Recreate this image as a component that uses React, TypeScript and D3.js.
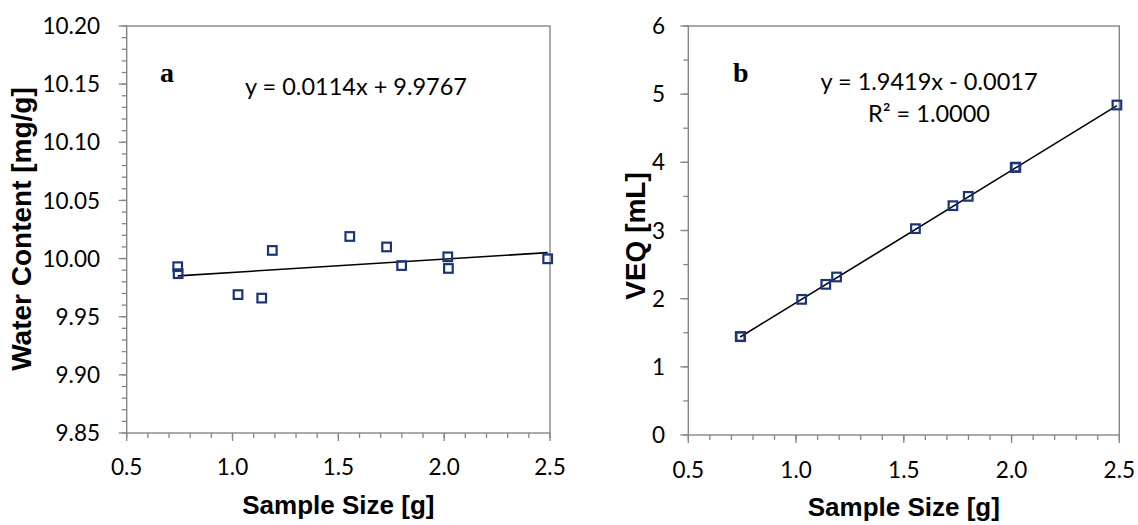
import React from "react";
import * as d3 from "d3";

// ---- data ----
const sampleSize = [0.741, 0.743, 1.026, 1.138, 1.188, 1.554, 1.728, 1.799, 2.017, 2.02, 2.489];
const waterContent = [9.993, 9.987, 9.969, 9.966, 10.007, 10.019, 10.01, 9.994, 10.0015, 9.9915, 9.9998];
const veq = [1.442, 1.445, 1.99, 2.21, 2.318, 3.027, 3.364, 3.501, 3.924, 3.93, 4.841];

const xTicks = [0.5, 1.0, 1.5, 2.0, 2.5];
const yTicksA = [9.85, 9.9, 9.95, 10.0, 10.05, 10.1, 10.15, 10.2];
const yTicksB = [0, 1, 2, 3, 4, 5, 6];

const trendA = { slope: 0.0114, intercept: 9.9767 };
const trendB = { slope: 1.9419, intercept: -0.0017 };

const eqA = ["y = 0.0114x + 9.9767"];
const eqB = ["y = 1.9419x - 0.0017", "R² = 1.0000"];

const AXIS = "#868686";
const MARK = "#1a3577";
const NUM_FONT = "Lato, 'Open Sans', sans-serif";
const TITLE_FONT = "'Liberation Sans', Arial, sans-serif";

type PanelProps = {
  x0: number; x1: number; y0: number; y1: number;
  yDomain: [number, number];
  yTicks: number[]; yMinorStep: number; yFmt: (v: number) => string;
  ys: number[];
  trend: { slope: number; intercept: number };
  letter: string; letterX: number;
  eq: string[]; eqX: number; eqY: number; eqDy: number;
  yTitle: string; yTitleX: number; yTitleY: number;
  yLabelRight: number; xLabelBase: number; xTitleBase: number;
};

function Panel(p: PanelProps) {
  const x = d3.scaleLinear().domain([0.5, 2.5]).range([p.x0, p.x1]);
  const y = d3.scaleLinear().domain(p.yDomain).range([p.y1, p.y0]);
  const xMinor = d3.range(0.5, 2.5001, 0.1);
  const yMinor = d3.range(p.yDomain[0], p.yDomain[1] + 1e-9, p.yMinorStep);
  const xmin = d3.min(sampleSize)!;
  const xmax = d3.max(sampleSize)!;
  const line = d3.line<number>().x((d) => x(d)).y((d) => y(p.trend.slope * d + p.trend.intercept));
  const s = 8.6;
  return (
    <g>
      {xMinor.map((v, i) => (
        <line key={"xm" + i} x1={x(v)} x2={x(v)} y1={p.y1} y2={p.y1 + 5} stroke={AXIS} strokeWidth={1.3} />
      ))}
      {yMinor.map((v, i) => (
        <line key={"ym" + i} x1={p.x0 - 5} x2={p.x0} y1={y(v)} y2={y(v)} stroke={AXIS} strokeWidth={1.3} />
      ))}
      {xTicks.map((v, i) => (
        <line key={"xM" + i} x1={x(v)} x2={x(v)} y1={p.y1} y2={p.y1 + 8} stroke={AXIS} strokeWidth={1.3} />
      ))}
      {p.yTicks.map((v, i) => (
        <line key={"yM" + i} x1={p.x0 - 8} x2={p.x0} y1={y(v)} y2={y(v)} stroke={AXIS} strokeWidth={1.3} />
      ))}
      <rect x={p.x0} y={p.y0} width={p.x1 - p.x0} height={p.y1 - p.y0} fill="none" stroke={AXIS} strokeWidth={1.4} />
      {xTicks.map((v, i) => (
        <text key={"xl" + i} x={x(v)} y={p.xLabelBase} textAnchor="middle" fontFamily={NUM_FONT} fontSize={22.5} fill="#000">
          {d3.format(".1f")(v)}
        </text>
      ))}
      {p.yTicks.map((v, i) => (
        <text key={"yl" + i} x={p.yLabelRight} y={y(v)} dy="0.36em" textAnchor="end" fontFamily={NUM_FONT} fontSize={22.5} fill="#000">
          {p.yFmt(v)}
        </text>
      ))}
      <text x={(p.x0 + p.x1) / 2} y={p.xTitleBase} textAnchor="middle" fontFamily={TITLE_FONT} fontWeight="bold" fontSize={26} fill="#000">
        Sample Size [g]
      </text>
      <text transform={`translate(${p.yTitleX},${p.yTitleY}) rotate(-90)`} textAnchor="middle" fontFamily={TITLE_FONT} fontWeight="bold" fontSize={28} fill="#000">
        {p.yTitle}
      </text>
      <path d={line([xmin, xmax]) || ""} stroke="#000" strokeWidth={1.6} fill="none" />
      {sampleSize.map((sx, i) => (
        <rect key={"m" + i} x={x(sx) - s / 2} y={y(p.ys[i]) - s / 2} width={s} height={s} fill="none" stroke={MARK} strokeWidth={2.2} />
      ))}
      <text x={p.letterX} y={82} fontFamily="'Liberation Serif', 'Times New Roman', serif" fontWeight="bold" fontSize={28} fill="#000">
        {p.letter}
      </text>
      {p.eq.map((t, i) => (
        <text key={"eq" + i} x={p.eqX} y={p.eqY + i * p.eqDy} textAnchor="middle" fontFamily={NUM_FONT} fontSize={23.5} fill="#000">
          {t}
        </text>
      ))}
    </g>
  );
}

export default function App() {
  return (
    <svg width={1138} height={525} style={{ position: "absolute", left: 0, top: 0, background: "#fff" }}>
      <rect width={1138} height={525} fill="#fff" />
      <Panel
        x0={126.7} x1={550} y0={26} y1={433}
        yDomain={[9.85, 10.2]} yTicks={yTicksA} yMinorStep={0.01} yFmt={d3.format(".2f")}
        ys={waterContent} trend={trendA}
        letter="a" letterX={160} eq={eqA} eqX={356} eqY={95} eqDy={0}
        yTitle="Water Content [mg/g]" yTitleX={31} yTitleY={229}
        yLabelRight={100} xLabelBase={475} xTitleBase={514}
      />
      <Panel
        x0={688.3} x1={1119.3} y0={26} y1={435}
        yDomain={[0, 6]} yTicks={yTicksB} yMinorStep={0.5} yFmt={d3.format("d")}
        ys={veq} trend={trendB}
        letter="b" letterX={733} eq={eqB} eqX={929} eqY={90} eqDy={31.7}
        yTitle="VEQ [mL]" yTitleX={645} yTitleY={236}
        yLabelRight={665} xLabelBase={478} xTitleBase={516}
      />
    </svg>
  );
}
